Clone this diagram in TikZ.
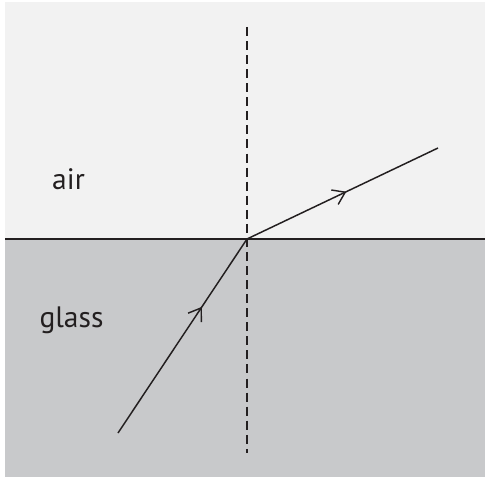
\documentclass[tikz,border=0pt]{standalone}
\usepackage{fontspec}
\setmainfont{PT Sans}
\usetikzlibrary{arrows.meta,decorations.markings}
\definecolor{AirGray}{HTML}{F2F2F2}
\definecolor{GlassGray}{HTML}{C8C9CB}
\definecolor{InkDark}{HTML}{231F20}

\begin{document}
\begin{tikzpicture}[
  x=0.025cm,y=-0.025cm,
  medium/.style={font=\fontsize{21}{24}\selectfont,text=InkDark,inner sep=0pt,anchor=base},
  normal/.style={draw=InkDark,line width=0.85pt,dash pattern=on 6.4pt off 3.6pt},
  ray/.style={draw=InkDark,line width=1.05pt,postaction={decorate}},
  chevron/.tip={Straight Barb[length=2.9mm,width=4mm,line width=1pt]}]
\useasboundingbox (0,0) rectangle (485,479);
\fill[white] (0,0) rectangle (485,479);
\fill[AirGray] (5,2) rectangle (485,239);
\fill[GlassGray] (5,239) rectangle (485,477);
\coordinate (left) at (5,239);
\coordinate (right) at (485,239);
\coordinate (top) at (247,27);
\coordinate (bottom) at (247,453);
\coordinate (src) at (118,433);
\coordinate (hit) at (247,239);
\coordinate (out) at (438,148);
\node[medium] (air) at (68.5,189) {air};
\node[medium] (glass) at (71.5,327) {glass};
\draw[InkDark,line width=1.05pt] (left) -- (right);
\draw[normal] (top) -- (bottom);
\draw[ray,decoration={markings,mark=at position 0.65 with {\arrow{chevron}}}] (src) -- (hit);
\draw[ray,decoration={markings,mark=at position 0.52 with {\arrow{chevron}}}] (hit) -- (out);
\end{tikzpicture}
\end{document}
